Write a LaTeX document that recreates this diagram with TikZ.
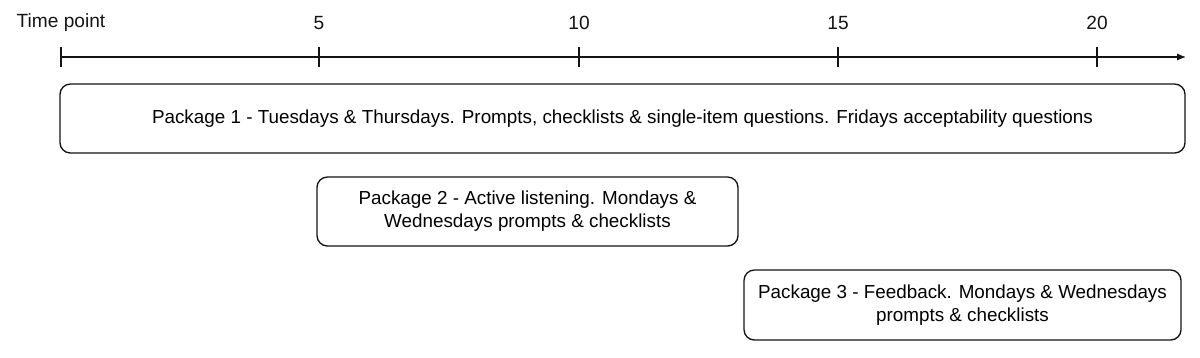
\documentclass[tikz,border=0pt]{standalone}
\usepackage{fontspec}
\setmainfont{Liberation Sans}
\usepackage{xcolor}
\usepackage{tikz}
\usetikzlibrary{arrows.meta, positioning, calc}
\definecolor{TLBlack}{RGB}{20, 20, 20}

\tikzset{
  pkgbox/.style={draw=TLBlack, rounded corners=2.6mm, line width=0.95pt, align=center,
                 inner sep=0pt, font=\fontsize{13.4}{16.5}\selectfont},
  ticklabel/.style={font=\fontsize{13.6}{16}\selectfont, text=TLBlack}
}

\begin{document}
\begin{tikzpicture}[x=0.25mm, y=-0.25mm]
    \useasboundingbox (0,0) rectangle (1200,357);

    % time axis
    \coordinate (t0) at (61,57);
    \coordinate (tend) at (1186,57);
    \draw[line width=0.95pt, TLBlack, -{Latex[length=2.2mm, width=1.8mm]}] (t0) -- (tend);
    \draw[line width=0.95pt, TLBlack] (61,47) -- (61,67);
    \node[ticklabel] (tp) at (61,23) {Time point};
    \foreach \t/\x in {5/319, 10/579, 15/838, 20/1097} {
      \draw[line width=0.95pt, TLBlack] (\x,47) -- (\x,67);
      \node[ticklabel] (lab\t) at (\x,23) {\t};
    }

    % packages
    \node[pkgbox, minimum width=281.25mm, minimum height=17.25mm] (pkgone) at (622.5,118.5)
      {Package 1 - Tuesdays \& Thursdays. Prompts, checklists \& single-item questions. Fridays acceptability questions};
    \node[pkgbox, minimum width=105.25mm, minimum height=17.25mm] (pkgtwo) at (527.5,211.5)
      {Package 2 - Active listening. Mondays \&\\Wednesdays prompts \& checklists};
    \node[pkgbox, minimum width=109.25mm, minimum height=17.5mm] (pkgthree) at (962.5,305)
      {Package 3 - Feedback. Mondays \& Wednesdays\\prompts \& checklists};
  \end{tikzpicture}
\end{document}
